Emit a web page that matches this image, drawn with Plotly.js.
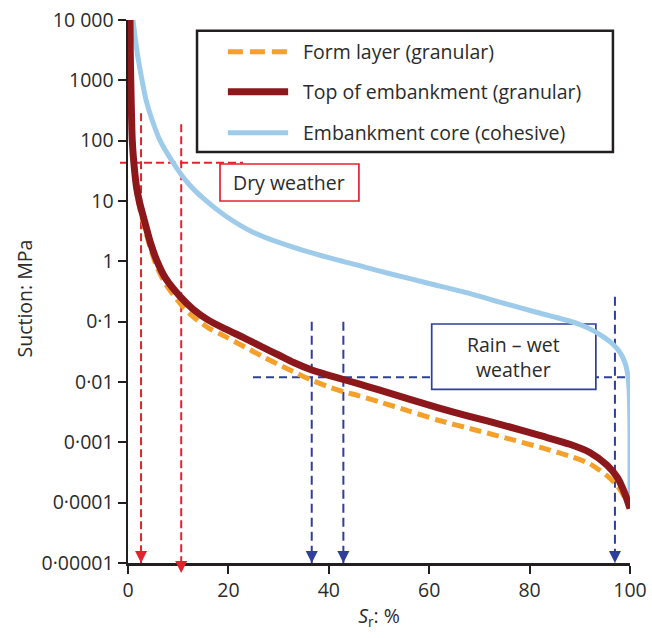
<!DOCTYPE html>
<html>
<head>
<meta charset="utf-8">
<script src="https://cdn.plot.ly/plotly-3.0.1.min.js"></script>
<style>
  html, body { margin: 0; padding: 0; background: #ffffff; }
  #chart { width: 652px; height: 638px; }
</style>
</head>
<body>
<div id="chart"></div>
<script>
// Degree of saturation Sr (%) and suction (MPa) for each material
const formS = [0.4, 0.45, 0.55, 0.65, 0.85, 1.2, 1.7, 2.3, 3.4, 4.5, 5.7, 7.5, 10.4, 13, 16, 19.5, 23.3, 27, 30, 33, 36.6, 40, 42.9, 46, 50, 56, 62, 68, 75, 82, 88, 92, 95.4, 97.5, 99, 100];
const formSuction = [10000, 3000, 1000, 400, 100, 38, 15, 7.9, 3.4, 1.6, 0.83, 0.42, 0.2, 0.12, 0.079, 0.056, 0.038, 0.026, 0.0195, 0.0148, 0.0107, 0.0083, 0.0069, 0.0059, 0.0047, 0.0033, 0.0023, 0.0017, 0.0012, 0.00083, 0.00059, 0.00044, 0.00028, 0.00019, 0.00012, 0.00008];

const topS = [0.4, 0.45, 0.55, 0.65, 0.85, 1.2, 1.7, 2.3, 3.4, 4.5, 5.7, 7.5, 10.4, 13, 16, 19.5, 23.3, 27, 30, 33, 36.6, 40, 42.9, 46, 50, 56, 62, 68, 75, 82, 88, 92, 95.4, 97.5, 99, 100];
const topSuction = [10000, 3000, 1000, 400, 100, 40, 17, 9.5, 4.3, 2.0, 1.05, 0.52, 0.26, 0.16, 0.106, 0.075, 0.053, 0.037, 0.028, 0.021, 0.0158, 0.0129, 0.011, 0.0093, 0.0074, 0.0052, 0.0037, 0.0027, 0.0019, 0.0013, 0.00093, 0.00068, 0.00042, 0.00026, 0.00014, 0.00008];

const coreS = [1.0, 1.8, 2.8, 3.6, 4.8, 6.4, 9.0, 12, 15.3, 19.3, 25, 33, 40, 47, 53, 60, 68, 75, 81, 89.4, 92, 94.7, 96.5, 98, 99, 99.5, 99.8, 99.95, 100, 100];
const coreSuction = [10000, 3000, 1000, 470, 220, 100, 43, 19.5, 10.5, 5.75, 3.0, 1.7, 1.15, 0.81, 0.6, 0.43, 0.295, 0.2, 0.146, 0.094, 0.076, 0.056, 0.043, 0.031, 0.021, 0.014, 0.008, 0.003, 0.0012, 0.00009];

const seriesNames = ['Form layer (granular)', 'Top of embankment (granular)', 'Embankment core (cohesive)'];

// Dry-weather and wet-weather reading guides
const dryS = [2.6, 10.6];
const dryTop = [284, 187];
const dryLevel = 43;
const wetS = [36.6, 42.9, 97];
const wetTop = [0.1, 0.1, 0.26];
const wetLevel = 0.012;

// Suction axis ticks
const yTickVals = [10000, 1000, 100, 10, 1, 0.1, 0.01, 0.001, 0.0001, 0.00001];
const yTickText = ['10 000', '1000', '100', '10', '1', '0·1', '0·01', '0·001', '0·0001', '0·00001'];
const xTickVals = [0, 20, 40, 60, 80, 100];

const ORANGE = '#F5A02A';
const DARKRED = '#8C181C';
const LIGHTBLUE = '#9FCBEB';
const GUIDE_RED = '#E2232B';
const GUIDE_BLUE = '#2F3F9C';
const INK = '#231F20';
const TEXT = '#2b2b2b';
const FONT = 'Open Sans, Noto Sans, sans-serif';
const FS = 19.5;

const traces = [
  { x: coreS, y: coreSuction, name: seriesNames[2], mode: 'lines',
    line: { color: LIGHTBLUE, width: 5, shape: 'spline', smoothing: 0.7 }, hoverinfo: 'skip' },
  { x: formS, y: formSuction, name: seriesNames[0], mode: 'lines',
    line: { color: ORANGE, width: 5, dash: '12px,6px', shape: 'spline', smoothing: 0.7 }, hoverinfo: 'skip' },
  { x: topS, y: topSuction, name: seriesNames[1], mode: 'lines',
    line: { color: DARKRED, width: 7, shape: 'spline', smoothing: 0.7 }, hoverinfo: 'skip' }
];

const shapes = [];
const annotations = [];

// dry weather guides
shapes.push({ type: 'line', layer: 'below', xref: 'paper', yref: 'y', x0: -0.016, x1: 0.229, y0: dryLevel, y1: dryLevel,
  line: { color: GUIDE_RED, width: 2, dash: '8px,4px' } });
dryS.forEach((s, i) => {
  shapes.push({ type: 'line', layer: 'below', xref: 'x', yref: 'y', x0: s, x1: s, y0: dryTop[i], y1: 0.00001,
    line: { color: GUIDE_RED, width: 2, dash: '8px,4px' } });
  annotations.push({ x: s, y: -5, xref: 'x', yref: 'y', text: '', showarrow: true, ax: 0, ay: -12,
    arrowhead: 2, arrowsize: 1.2, arrowwidth: 2, arrowcolor: GUIDE_RED, yshift: i === 1 ? -10 : 0 });
});

// wet weather guides
shapes.push({ type: 'line', layer: 'below', xref: 'x', yref: 'y', x0: 24.9, x1: 99, y0: wetLevel, y1: wetLevel,
  line: { color: GUIDE_BLUE, width: 2, dash: '8px,5px' } });
wetS.forEach((s, i) => {
  shapes.push({ type: 'line', layer: 'below', xref: 'x', yref: 'y', x0: s, x1: s, y0: wetTop[i], y1: 0.00001,
    line: { color: GUIDE_BLUE, width: 2, dash: '9px,5px' } });
  annotations.push({ x: s, y: -5, xref: 'x', yref: 'y', text: '', showarrow: true, ax: 0, ay: -12,
    arrowhead: 2, arrowsize: 1.2, arrowwidth: 2, arrowcolor: GUIDE_BLUE });
});

// label boxes
shapes.push({ type: 'rect', layer: 'below', xref: 'paper', yref: 'paper', x0: 0.1833, x1: 0.460, y0: 0.6667, y1: 0.7348,
  line: { color: GUIDE_RED, width: 1.7 }, fillcolor: '#ffffff' });
annotations.push({ x: 0.3216, y: 0.7007, xref: 'paper', yref: 'paper', text: 'Dry weather', showarrow: false,
  xanchor: 'center', yanchor: 'middle', font: { family: FONT, size: FS, color: TEXT } });

// the rain box sits in the plot layer so it masks the wet-weather level line
shapes.push({ type: 'rect', layer: 'below', xref: 'x', yref: 'y', x0: 60.5, x1: 93.2, y0: 0.00757, y1: 0.0914,
  line: { color: GUIDE_BLUE, width: 1.7 }, fillcolor: '#ffffff' });
annotations.push({ x: 0.7684, y: 0.380, xref: 'paper', yref: 'paper', text: 'Rain – wet<br>weather', showarrow: false,
  xanchor: 'center', yanchor: 'middle', align: 'center', font: { family: FONT, size: FS, color: TEXT } });

// legend panel
shapes.push({ type: 'rect', layer: 'above', xref: 'paper', yref: 'paper', x0: 0.1375, x1: 0.966, y0: 0.757, y1: 0.980,
  line: { color: INK, width: 2.5 }, fillcolor: 'rgba(0,0,0,0)' });
const legendRows = [0.9416, 0.868, 0.7924];
const legendStyles = [
  { color: ORANGE, width: 5, dash: '15px,7px' },
  { color: DARKRED, width: 7 },
  { color: LIGHTBLUE, width: 5 }
];
legendRows.forEach((yy, i) => {
  shapes.push({ type: 'line', layer: 'above', xref: 'paper', yref: 'paper', x0: 0.199, x1: 0.319, y0: yy, y1: yy,
    line: legendStyles[i] });
  annotations.push({ x: 0.3446, y: yy, xref: 'paper', yref: 'paper', text: seriesNames[i], showarrow: false,
    xanchor: 'left', yanchor: 'middle', font: { family: FONT, size: FS, color: TEXT } });
});

// suction axis title
annotations.push({ x: 0, y: 0.5, xref: 'paper', yref: 'paper', xanchor: 'center', yanchor: 'middle', xshift: -104, yshift: -7,
  textangle: -90, text: 'Suction: MPa', showarrow: false, font: { family: FONT, size: FS, color: TEXT } });

const layout = {
  width: 652, height: 638,
  margin: { l: 128, r: 22, t: 20, b: 75 },
  paper_bgcolor: '#ffffff', plot_bgcolor: '#ffffff',
  showlegend: false,
  font: { family: FONT, size: FS, color: TEXT },
  xaxis: {
    range: [0, 100], tickvals: xTickVals, ticks: 'outside', ticklen: 8, tickwidth: 2, tickcolor: INK,
    showline: true, linewidth: 2.5, linecolor: INK, showgrid: false, zeroline: false,
    tickfont: { family: FONT, size: FS, color: TEXT }, fixedrange: true,
    title: { text: '<i>S</i><sub>r</sub>: %', standoff: 8, font: { family: FONT, size: FS, color: TEXT } }
  },
  yaxis: {
    type: 'log', range: [-5, 4], tickvals: yTickVals, ticktext: yTickText, ticks: 'outside', ticklen: 8, tickwidth: 2,
    tickcolor: INK, showline: true, linewidth: 2.5, linecolor: INK, showgrid: false, zeroline: false,
    tickfont: { family: FONT, size: FS, color: TEXT }, fixedrange: true
  },
  shapes: shapes,
  annotations: annotations
};

Plotly.newPlot('chart', traces, layout, { displayModeBar: false, staticPlot: true });
</script>
</body>
</html>
